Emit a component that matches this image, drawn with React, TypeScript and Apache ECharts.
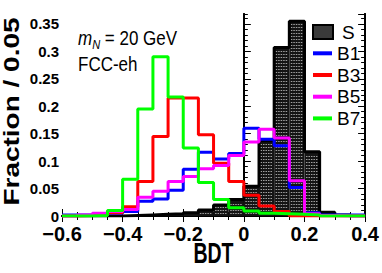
import React, { useEffect, useRef } from "react";
import * as echarts from "echarts";

// ---- data (fraction per 0.05 bin of BDT) ----
const binEdges = [
  -0.6, -0.55, -0.5, -0.45, -0.4, -0.35, -0.3, -0.25, -0.2, -0.15, -0.1,
  -0.05, 0, 0.05, 0.1, 0.15, 0.2, 0.25, 0.3, 0.35, 0.4,
];
const sigS = [0, 0, 0, 0, 0.001, 0.002, 0.003, 0.004, 0.006, 0.011, 0.02, 0.03, 0.054, 0.137, 0.307, 0.355, 0.117, 0.007, 0.002, 0];
const bkgB1 = [0.002, 0.002, 0.002, 0.005, 0.008, 0.027, 0.031, 0.047, 0.085, 0.116, 0.104, 0.114, 0.16, 0.14, 0.128, 0.052, 0.006, 0.002, 0.002, 0.002];
const bkgB3 = [0, 0.001, 0.002, 0.006, 0.017, 0.063, 0.145, 0.215, 0.215, 0.148, 0.096, 0.063, 0.038, 0.018, 0.008, 0, 0, 0, 0, 0];
const bkgB5 = [0, 0.002, 0.005, 0.008, 0.012, 0.034, 0.045, 0.063, 0.072, 0.086, 0.092, 0.11, 0.135, 0.158, 0.142, 0.064, 0.004, 0.001, 0, 0];
const bkgB7 = [0, 0, 0.001, 0.01, 0.067, 0.195, 0.29, 0.217, 0.124, 0.061, 0.03, 0.015, 0.009, 0.005, 0.004, 0.003, 0.002, 0, 0, 0];

const bkgNames = ["B1", "B3", "B5", "B7"];
const bkgValues = [bkgB1, bkgB3, bkgB5, bkgB7];
const bkgColors = ["#0000ff", "#ff0000", "#ff00ff", "#00ff00"];
const sigName = "S";

const xMin = -0.6;
const xMax = 0.4;
const xInterval = 0.2;
const yMin = 0;
const yMax = 0.368;
const yInterval = 0.05;
const yMinorInterval = 0.01;

const xTitle = "BDT";
const yTitle = "Fraction / 0.05";
const noteCollider = "FCC-eh";

const FONT = "'Liberation Sans', Arial, Helvetica, sans-serif";

function stepPoints(vals: number[]) {
  return binEdges.map((e, i) => [e, vals[Math.min(i, vals.length - 1)]]);
}

function fmtX(v: number) {
  const r = Number(v.toFixed(2));
  if (r < 0) return "\u2212" + String(Math.abs(r));
  return String(r);
}

function fmtY(v: number) {
  const r = Number(v.toFixed(3));
  const k = r / yInterval;
  if (Math.abs(k - Math.round(k)) > 1e-6) return "";
  return String(r);
}

export default function App() {
  const ref = useRef<HTMLDivElement>(null);

  useEffect(() => {
    if (!ref.current) return;
    const chart = echarts.init(ref.current, null, { renderer: "svg" });

    const axisLine = { show: true, lineStyle: { color: "#000", width: 2 } };
    const xCommon = {
      type: "value",
      min: xMin,
      max: xMax,
      interval: xInterval,
      splitLine: { show: false },
      axisLine,
    };
    const yCommon = {
      type: "value",
      min: yMin,
      max: yMax,
      splitLine: { show: false },
      axisLine,
    };

    const option: any = {
      animation: false,
      backgroundColor: "#fff",
      grid: { left: 62, right: 15, top: 14, bottom: 57, containLabel: false },
      xAxis: [
        {
          ...xCommon,
          position: "bottom",
          axisTick: { show: true, inside: true, length: 7, lineStyle: { color: "#000", width: 1 } },
          minorTick: { show: true, splitNumber: 4, length: 4, lineStyle: { color: "#000", width: 1 } },
          axisLabel: {
            formatter: fmtX,
            color: "#000",
            fontSize: 20,
            lineHeight: 20,
            fontWeight: "bold",
            fontFamily: FONT,
            margin: 8,
          },
        },
        {
          ...xCommon,
          position: "top",
          axisTick: { show: true, inside: true, length: 6, lineStyle: { color: "#000", width: 1 } },
          minorTick: { show: true, splitNumber: 4, length: 4, lineStyle: { color: "#000", width: 1 } },
          axisLabel: { show: false },
        },
      ],
      yAxis: [
        {
          ...yCommon,
          position: "left",
          interval: yInterval,
          axisTick: { show: true, inside: true, length: 7, lineStyle: { color: "#000", width: 1 } },
          axisLabel: {
            formatter: fmtY,
            color: "#000",
            fontSize: 15,
            lineHeight: 13,
            fontWeight: "bold",
            fontFamily: FONT,
            margin: 3,
            showMaxLabel: false,
          },
        },
        {
          ...yCommon,
          position: "left",
          interval: yMinorInterval,
          axisTick: { show: true, inside: true, length: 4, lineStyle: { color: "#000", width: 1 } },
          axisLabel: { show: false },
        },
        {
          ...yCommon,
          position: "right",
          interval: yInterval,
          axisTick: { show: true, inside: true, length: 7, lineStyle: { color: "#000", width: 1 } },
          axisLabel: { show: false },
        },
        {
          ...yCommon,
          position: "right",
          interval: yMinorInterval,
          axisTick: { show: true, inside: true, length: 4, lineStyle: { color: "#000", width: 1 } },
          axisLabel: { show: false },
        },
      ],
      legend: [
        {
          data: [
            {
              name: sigName,
              icon: "rect",
              itemStyle: { color: "#3a3a3a", borderColor: "#000", borderWidth: 2 },
            },
          ],
          left: 312,
          top: 22,
          padding: 0,
          itemWidth: 20,
          itemHeight: 14,
          selectedMode: false,
          textStyle: { color: "#000", fontSize: 19, lineHeight: 20, fontFamily: FONT, padding: [0, 0, 0, 4] },
        },
        {
          data: bkgNames.map((n, i) => ({
            name: n,
            icon: "rect",
            itemStyle: { color: bkgColors[i], borderWidth: 0 },
          })),
          orient: "vertical",
          left: 313,
          top: 43.3,
          padding: 0,
          itemWidth: 19,
          itemHeight: 4,
          itemGap: 1.7,
          selectedMode: false,
          textStyle: { color: "#000", fontSize: 19, lineHeight: 20, fontFamily: FONT },
        },
      ],
      graphic: [
        {
          type: "text",
          x: 11,
          y: 111.5,
          rotation: Math.PI / 2,
          scaleY: 0.78,
          style: {
            text: yTitle,
            fontSize: 28,
            fontWeight: "bold",
            fontFamily: FONT,
            fill: "#000",
            align: "center",
            verticalAlign: "middle",
          },
        },
        {
          type: "text",
          x: 213.5,
          y: 252,
          scaleX: 0.65,
          style: {
            text: xTitle,
            fontSize: 30,
            fontWeight: "bold",
            fontFamily: FONT,
            fill: "#000",
            align: "center",
            verticalAlign: "middle",
          },
        },
        {
          type: "text",
          x: 78,
          y: 38,
          scaleX: 0.85,
          style: {
            text: "{m|m}{n|N}{t| = 20 GeV}",
            align: "left",
            verticalAlign: "middle",
            fill: "#000",
            rich: {
              m: { fontSize: 20, fontStyle: "italic", fontFamily: FONT, lineHeight: 26, fill: "#000" },
              n: { fontSize: 13, fontStyle: "italic", fontFamily: FONT, lineHeight: 13, verticalAlign: "bottom", fill: "#000" },
              t: { fontSize: 20, fontFamily: FONT, lineHeight: 26, fill: "#000" },
            },
          },
        },
        {
          type: "text",
          x: 78,
          y: 64,
          scaleX: 0.85,
          style: {
            text: noteCollider,
            fontSize: 20,
            fontFamily: FONT,
            fill: "#000",
            align: "left",
            verticalAlign: "middle",
          },
        },
      ],
      series: [
        {
          name: "S-fill",
          type: "custom",
          xAxisIndex: 0,
          yAxisIndex: 0,
          z: 2,
          encode: { x: [0, 1], y: 2 },
          data: sigS.map((v, i) => [binEdges[i], binEdges[i + 1], v]),
          renderItem: (params: any, api: any) => {
            const x0 = api.value(0);
            const x1 = api.value(1);
            const v = api.value(2);
            if (!(v > 0)) return null;
            const pBL = api.coord([x0, 0]);
            const pTR = api.coord([x1, v]);
            const left = pBL[0];
            const right = pTR[0];
            const bottom = pBL[1];
            const top = pTR[1];
            const children: any[] = [
              {
                type: "rect",
                shape: { x: left, y: top, width: right - left, height: bottom - top },
                style: { fill: "#141414" },
              },
            ];
            for (let y = Math.round(bottom) - 2.5; y > top + 2; y -= 3) {
              children.push({
                type: "line",
                shape: { x1: left + 1.5, y1: y, x2: right - 1.5, y2: y },
                style: { stroke: "#a0a0a0", lineWidth: 1, lineDash: [1.5, 1] },
              });
            }
            return { type: "group", children };
          },
        },
        {
          name: sigName,
          type: "line",
          step: "end",
          z: 3,
          symbol: "none",
          showSymbol: false,
          color: "#000",
          lineStyle: { color: "#000", width: 3 },
          data: stepPoints(sigS),
        },
        ...bkgNames.map((n, i) => ({
          name: n,
          type: "line",
          step: "end",
          z: 4 + i,
          symbol: "none",
          showSymbol: false,
          color: bkgColors[i],
          itemStyle: { color: bkgColors[i] },
          lineStyle: { color: bkgColors[i], width: 3 },
          data: stepPoints(bkgValues[i]),
        })),
      ],
    };

    chart.setOption(option);
    return () => chart.dispose();
  }, []);

  return (
    <div
      ref={ref}
      style={{ position: "absolute", left: 0, top: 0, width: 382, height: 273 }}
    />
  );
}
